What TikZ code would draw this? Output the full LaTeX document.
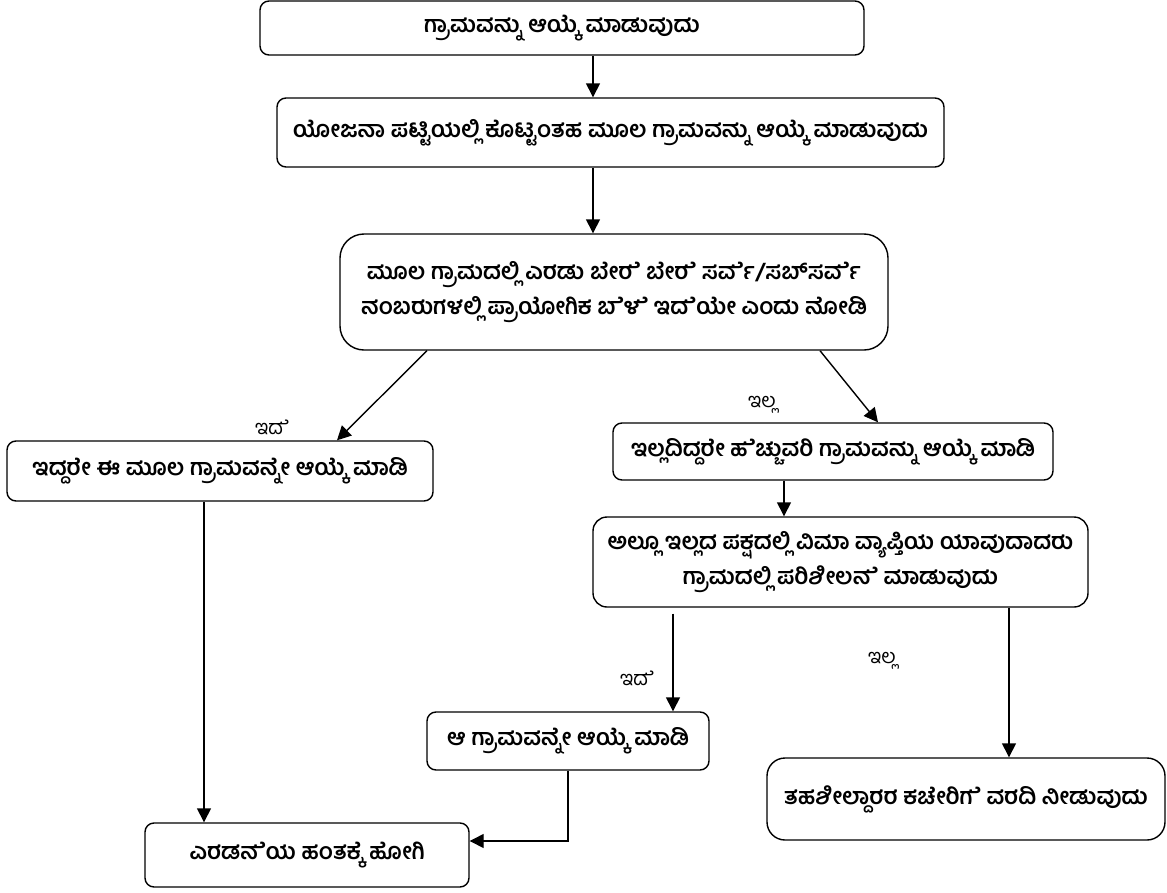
\documentclass[tikz,border=0pt]{standalone}
\usepackage{fontspec}
\newfontfamily\kn[Script=Kannada]{Hind Mysuru}
\usetikzlibrary{arrows.meta}
% vowel sign e, kept apart from its consonant so that it is drawn
\newcommand\ve{^^^^200d^^^^0cc6}

\begin{document}
\begin{tikzpicture}[x=1bp, y=-1bp,
    box/.style={draw, line width=1.4bp, rounded corners=9bp, align=center,
        inner sep=0pt, font=\kn\bfseries\fontsize{23}{35}\selectfont},
    arr/.style={line width=1.4bp, -{Triangle[length=14bp, width=14bp]}},
    lbl/.style={font=\kn\fontsize{20}{24}\selectfont, inner sep=0pt}]
    \useasboundingbox (0,0) rectangle (1167,893);

    \node (b1) [box, minimum width=604bp, minimum height=54bp] at (562,28) {ಗ್ರಾಮವನ್ನು ಆಯ್ಕ\ve{} ಮಾಡುವುದು};
    \node (b2) [box, minimum width=667bp, minimum height=69bp] at (610.5,132.5) {ಯೋಜನಾ ಪಟ್ಟಿಯಲ್ಲಿ ಕೊಟ್ಟಂತಹ ಮೂಲ ಗ್ರಾಮವನ್ನು ಆಯ್ಕ\ve{} ಮಾಡುವುದು};
    \node (b3) [box, rounded corners=24bp, minimum width=548bp, minimum height=116bp] at (614,292) {ಮೂಲ ಗ್ರಾಮದಲ್ಲಿ ಎರಡು ಬೇರ\ve{} ಬೇರ\ve{} ಸರ್ವ\ve/ಸಬ್‌ಸರ್ವ\ve\\ನಂಬರುಗಳಲ್ಲಿ ಪ್ರಾಯೋಗಿಕ ಬ\ve ಳ\ve{} ಇದ\ve ಯೇ ಎಂದು ನೋಡಿ};
    \node (b4) [box, minimum width=426bp, minimum height=60bp] at (220,471) {ಇದ್ದರೇ ಈ ಮೂಲ ಗ್ರಾಮವನ್ನೇ ಆಯ್ಕ\ve{} ಮಾಡಿ};
    \node (b5) [box, minimum width=440bp, minimum height=57bp] at (833,451.5) {ಇಲ್ಲದಿದ್ದರೇ ಹ\ve ಚ್ಚುವರಿ ಗ್ರಾಮವನ್ನು ಆಯ್ಕ\ve{} ಮಾಡಿ};
    \node (b6) [box, rounded corners=14bp, minimum width=495bp, minimum height=90bp] at (840.5,562) {ಅಲ್ಲೂ ಇಲ್ಲದ ಪಕ್ಷದಲ್ಲಿ ವಿಮಾ ವ್ಯಾಪ್ತಿಯ ಯಾವುದಾದರು\\ಗ್ರಾಮದಲ್ಲಿ ಪರಿಶೀಲನ\ve{} ಮಾಡುವುದು};
    \node (b7) [box, minimum width=282bp, minimum height=58bp] at (568,741) {ಆ ಗ್ರಾಮವನ್ನೇ ಆಯ್ಕ\ve{} ಮಾಡಿ};
    \node (b8) [box, rounded corners=18bp, minimum width=398bp, minimum height=82bp] at (966,799) {ತಹಶೀಲ್ದಾರರ ಕಚೇರಿಗ\ve{} ವರದಿ ನೀಡುವುದು};
    \node (b9) [box, minimum width=324bp, minimum height=64bp] at (307,855) {ಎರಡನ\ve ಯ ಹಂತಕ್ಕ\ve{} ಹೋಗಿ};

    \node (yes1) [lbl] at (272,427) {ಇದ\ve};
    \node (no1) [lbl] at (762,405) {ಇಲ್ಲ};
    \node (yes2) [lbl] at (637,678) {ಇದ\ve};
    \node (no2) [lbl] at (882,661) {ಇಲ್ಲ};

    % where the connectors leave and meet the boxes
    \coordinate (top) at (593,0);
    \coordinate (ylo) at (427,0);
    \coordinate (yhi) at (337,0);
    \coordinate (nlo) at (820,0);
    \coordinate (nhi) at (878,0);
    \coordinate (mid) at (784,0);
    \coordinate (dwn) at (673,0);
    \coordinate (rgt) at (1009,0);
    \coordinate (lft) at (204,0);
    \coordinate (jn) at (568,841);

    \draw [arr] (b1.south -| top) -- (b2.north -| top);
    \draw [arr] (b2.south -| top) -- (b3.north -| top);
    \draw [arr] (b3.south -| ylo) -- (b4.north -| yhi);
    \draw [arr] (b3.south -| nlo) -- (b5.north -| nhi);
    \draw [arr] (b5.south -| mid) -- (b6.north -| mid);
    \draw [arr, shorten <=6bp] (b6.south -| dwn) -- (b7.north -| dwn);
    \draw [arr] (b6.south -| rgt) -- (b8.north -| rgt);
    \draw [arr] (b4.south -| lft) -- (b9.north -| lft);
    \draw [arr] (b7.south) -- (jn) -- (jn -| b9.east);
\end{tikzpicture}
\end{document}
